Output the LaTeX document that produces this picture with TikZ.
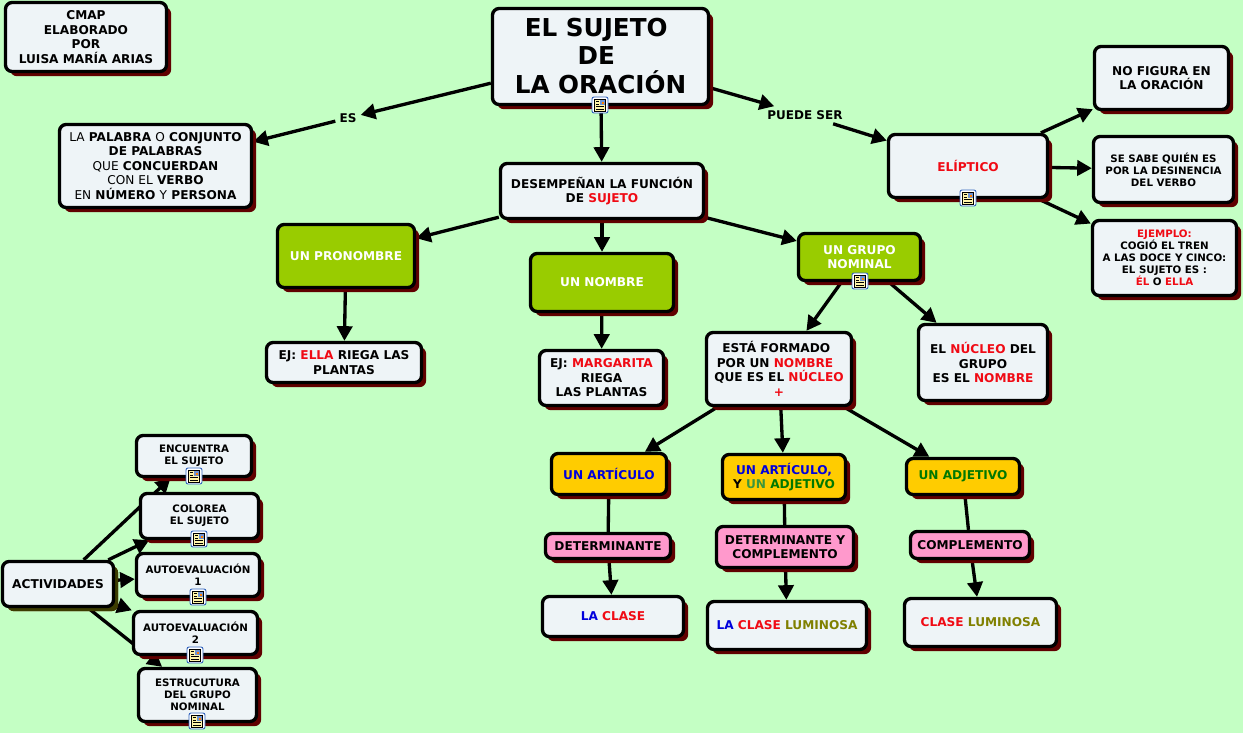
\documentclass[tikz,border=0pt]{standalone}
\usepackage{fontspec}
\setmainfont{DejaVu Sans}
\usepackage{xcolor}
\usepackage{tikz}
\usetikzlibrary{arrows.meta,backgrounds,shadows}
\definecolor{fondo}{RGB}{196,255,196}
\definecolor{caja}{RGB}{238,244,247}
\definecolor{sombra}{RGB}{96,0,0}
\definecolor{sombraoliva}{RGB}{60,60,0}
\definecolor{verdecaja}{RGB}{153,204,0}
\definecolor{amarillo}{RGB}{255,204,0}
\definecolor{rosa}{RGB}{255,153,204}
\definecolor{rojo}{RGB}{240,10,20}
\definecolor{azul}{RGB}{0,0,220}
\definecolor{verde}{RGB}{0,120,0}
\definecolor{verdeclaro}{RGB}{60,150,60}
\definecolor{oliva}{RGB}{128,128,0}
\definecolor{iconazul}{RGB}{50,100,190}
\definecolor{iconpapel}{RGB}{255,245,170}
\tikzset{
  concepto/.style={draw=black,line width=2.5pt,fill=caja,rounded corners=5pt,inner sep=0pt,align=center,
    font=\fontsize{9.1}{10.9}\selectfont\bfseries,
    drop shadow={shadow xshift=3.5pt,shadow yshift=-3.5pt,fill=sombra,opacity=1}},
  chico/.style={font=\fontsize{7.7}{9}\selectfont\bfseries},
  wh/.style 2 args={minimum width=#1*0.75pt,minimum height=#2*0.75pt},
  enlace/.style={inner sep=3pt,font=\fontsize{9}{10}\selectfont\bfseries},
  linea/.style={line width=2.5pt},
  flecha/.style={line width=2.5pt,-{Triangle[length=11pt,width=11.5pt]}},
  docicon/.pic={
    \draw[draw=iconazul,fill=white,rounded corners=1.5pt,line width=0.7pt] (-8,-8) rectangle (8,8);
    \draw[draw=black,fill=iconpapel,line width=0.5pt] (-5.5,-6) rectangle (5.5,6);
    \fill[iconazul!70] (0,-5) rectangle (4.5,-0.5);
    \fill[orange] (1.5,-3.5) rectangle (3.5,-1.5);
    \draw[line width=0.4pt] (-4,-3.5) -- (-1,-3.5) (-4,-1) -- (-1,-1) (-4,1.5) -- (4,1.5) (-4,4) -- (4,4);
  }
}
\begin{document}
\begin{tikzpicture}[x=0.75pt,y=-0.75pt]
    \useasboundingbox (0,0) rectangle (1243,733);
    \node[concepto,wh={161}{69}] (cmap) at (86,37) {CMAP\\ELABORADO\\POR\\LUISA MARÍA ARIAS};
    \node[concepto,wh={216}{96},font=\fontsize{18.5}{21.4}\selectfont\bfseries] (titulo) at (600.5,56.5) {\raisebox{1pt}{EL SUJETO\ \mbox{}}\\\raisebox{1pt}{DE\ \mbox{}}\\\raisebox{1pt}{LA ORACIÓN}};
    \node[enlace] (es) at (348,118) {ES};
    \node[enlace] (puede) at (805,115) {PUEDE SER};
    \node[concepto,wh={192}{83}] (palabra) at (155.5,166) {\textmd{LA} PALABRA \textmd{O} CONJUNTO\\DE PALABRAS\\\textmd{QUE} CONCUERDAN\\\textmd{CON EL} VERBO\\\textmd{EN} NÚMERO \textmd{Y} PERSONA};
    \node[concepto,wh={203}{55}] (funcion) at (602,191) {DESEMPEÑAN LA FUNCIÓN\ \\DE \textcolor{rojo}{SUJETO}};
    \node[concepto,wh={159}{63}] (eliptico) at (968,166) {\textcolor{rojo}{ELÍPTICO}};
    \node[concepto,wh={134}{63}] (nofigura) at (1161.5,78) {NO FIGURA EN\\LA ORACIÓN};
    \node[concepto,chico,wh={140}{66}] (sesabe) at (1163.5,169.5) {SE SABE QUIÉN ES\\POR LA DESINENCIA\\DEL VERBO};
    \node[concepto,chico,wh={144}{75}] (ejemplo) at (1164.5,258) {\textcolor{rojo}{EJEMPLO:}\\COGIÓ EL TREN\\A LAS DOCE Y CINCO:\\EL SUJETO ES :\\\textcolor{rojo}{ÉL} O \textcolor{rojo}{ELLA}};
    \node[concepto,fill=verdecaja,text=white,wh={137}{63}] (pronombre) at (346,256) {UN PRONOMBRE};
    \node[concepto,fill=verdecaja,text=white,wh={143}{58}] (nombre) at (602,282.5) {UN NOMBRE};
    \node[concepto,fill=verdecaja,text=white,wh={122}{47}] (grupo) at (859.5,257) {UN GRUPO\\NOMINAL};
    \node[concepto,wh={155}{40}] (ejella) at (344,362.5) {EJ: \textcolor{rojo}{ELLA} RIEGA LAS\\PLANTAS};
    \node[concepto,wh={124}{55}] (ejmargarita) at (601.5,378) {EJ: \textcolor{rojo}{MARGARITA}\\RIEGA\\LAS PLANTAS};
    \node[concepto,wh={145}{73}] (formado) at (779,369) {ESTÁ FORMADO\hspace*{4pt}\mbox{}\\POR UN \textcolor{rojo}{NOMBRE}\hspace*{6pt}\mbox{}\\QUE ES EL \textcolor{rojo}{NÚCLEO}\\\textcolor{rojo}{+}};
    \node[concepto,wh={129}{76}] (nucleo) at (983,362.5) {EL \textcolor{rojo}{NÚCLEO} DEL\\GRUPO\\ES EL \textcolor{rojo}{NOMBRE}};
    \node[concepto,fill=amarillo,wh={115}{41}] (articulo) at (609,474) {\textcolor{azul}{UN ARTÍCULO}};
    \node[concepto,fill=amarillo,wh={123}{45}] (artadj) at (784,477) {\textcolor{azul}{UN ARTÍCULO,}\\Y \textcolor{verdeclaro}{UN} \textcolor{verde}{ADJETIVO}};
    \node[concepto,fill=amarillo,wh={113}{36}] (adjetivo) at (963,476.5) {\textcolor{verde}{UN ADJETIVO}};
    \node[concepto,fill=rosa,wh={125}{25}] (determ) at (608,546) {DETERMINANTE};
    \node[concepto,fill=rosa,wh={137}{41}] (detcompl) at (785,547) {DETERMINANTE Y\\COMPLEMENTO};
    \node[concepto,fill=rosa,wh={119}{27}] (compl) at (970,545) {COMPLEMENTO};
    \node[concepto,wh={141}{40}] (laclase) at (613,616.5) {\textcolor{azul}{LA} \textcolor{rojo}{CLASE}};
    \node[concepto,wh={159}{48}] (laclaselum) at (787,625.5) {\textcolor{azul}{LA} \textcolor{rojo}{CLASE} \textcolor{oliva}{LUMINOSA}};
    \node[concepto,wh={152}{48}] (claselum) at (980.5,622.5) {\textcolor{rojo}{CLASE} \textcolor{oliva}{LUMINOSA}};
    \node[concepto,wh={111}{45},drop shadow={shadow xshift=3.5pt,shadow yshift=-3.5pt,fill=sombraoliva,opacity=1}] (actividades) at (58,584) {ACTIVIDADES};
    \node[concepto,chico,wh={115}{41}] (encuentra) at (194,456) {ENCUENTRA\\EL SUJETO};
    \node[concepto,chico,wh={118}{45}] (colorea) at (199.5,516) {COLOREA\\EL SUJETO};
    \node[concepto,chico,wh={123}{43}] (autouno) at (198,575) {AUTOEVALUACIÓN\\1};
    \node[concepto,chico,wh={124}{43}] (autodos) at (195.5,633) {AUTOEVALUACIÓN\\2};
    \node[concepto,chico,wh={118}{53}] (estructura) at (197.5,695) {ESTRUCUTURA\\DEL GRUPO\\NOMINAL};
    \pic at (600,105) {docicon};
    \pic at (968,198) {docicon};
    \pic at (860,281) {docicon};
    \pic at (194,476) {docicon};
    \pic at (199,539) {docicon};
    \pic at (198,597) {docicon};
    \pic at (195,655) {docicon};
    \pic at (197,721) {docicon};
    \begin{scope}[on background layer]
        \fill[fondo] (0,0) rectangle (1243,733);
        \draw[flecha] (titulo) -- (es);
        \draw[flecha] (es) -- (palabra);
        \draw[flecha] (titulo) -- (funcion);
        \draw[flecha] (titulo) -- (puede);
        \draw[flecha] (puede) -- (eliptico);
        \draw[flecha] (eliptico) -- (nofigura);
        \draw[flecha] (eliptico) -- (sesabe);
        \draw[flecha] (eliptico) -- (ejemplo);
        \draw[flecha] (funcion) -- (pronombre);
        \draw[flecha] (funcion) -- (nombre);
        \draw[flecha] (funcion) -- (grupo);
        \draw[flecha] (pronombre) -- (ejella);
        \draw[flecha] (nombre) -- (ejmargarita);
        \draw[flecha] (grupo) -- (formado);
        \draw[flecha] (grupo) -- (nucleo);
        \draw[flecha] (formado) -- (articulo);
        \draw[flecha] (formado) -- (artadj);
        \draw[flecha] (formado) -- (adjetivo);
        \draw[linea] (articulo) -- (determ);
        \draw[linea] (artadj) -- (detcompl);
        \draw[linea] (adjetivo) -- (compl);
        \draw[flecha] (determ) -- (laclase);
        \draw[flecha] (detcompl) -- (laclaselum);
        \draw[flecha] (compl) -- (claselum);
        \draw[flecha] (actividades) -- (encuentra);
        \draw[flecha] (actividades) -- (colorea);
        \draw[flecha] (actividades) -- (autouno);
        \draw[flecha] (actividades) -- (autodos);
        \draw[flecha] (actividades) -- (estructura);
    \end{scope}
\end{tikzpicture}
\end{document}
